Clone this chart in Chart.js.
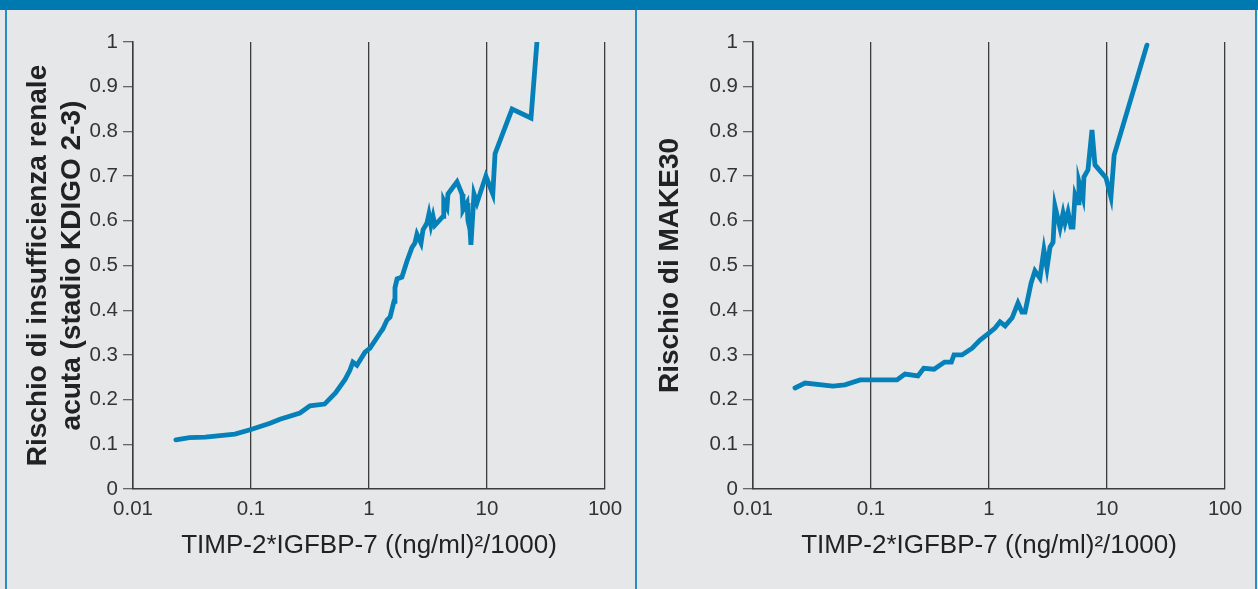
<!DOCTYPE html>
<html>
<head>
<meta charset="utf-8">
<script src="https://cdn.jsdelivr.net/npm/chart.js@4"></script>
<style>
  body { margin: 0; background: #e6e7e9; width: 1258px; height: 589px; overflow: hidden; position: relative; }
  .bar { position: absolute; left: 0; top: 0; width: 1258px; height: 10px; background: #0079b1; }
  .vline { position: absolute; top: 10px; width: 2px; height: 579px; background: #2a8cc3; }
  .box { position: absolute; top: 0; width: 636px; height: 589px; }
</style>
</head>
<body>
<div class="bar"></div>
<div class="vline" style="left:5px"></div>
<div class="vline" style="left:635px"></div>
<div class="vline" style="left:1255px"></div>
<div class="box" style="left:0px"><canvas id="chartAki"></canvas></div>
<div class="box" style="left:620px"><canvas id="chartMake"></canvas></div>
<script>
const xTicks = [0.01, 0.1, 1, 10, 100];
const xTitle = 'TIMP-2*IGFBP-7 ((ng/ml)²/1000)';

// rischio AKI (KDIGO 2-3)
const akiX = [0.0231, 0.030, 0.041, 0.073, 0.100, 0.145, 0.176, 0.26, 0.316, 0.42, 0.52, 0.627, 0.69, 0.73, 0.79,
  0.925, 1.02, 1.24, 1.31, 1.42, 1.51, 1.63, 1.66, 1.73, 1.9, 2.1, 2.31, 2.45, 2.55, 2.76, 2.87, 3.1, 3.22, 3.35,
  3.49, 3.62, 4.24, 4.3, 4.58, 4.67, 5.57, 6.14, 6.26, 6.77, 6.9, 7.18, 7.31, 7.76, 8.22, 9.78, 11.2, 11.7, 16.3,
  23.6, 26.5];
const akiY = [0.110, 0.115, 0.116, 0.123, 0.133, 0.147, 0.156, 0.170, 0.186, 0.190, 0.215, 0.245, 0.266, 0.284, 0.277,
  0.306, 0.315, 0.349, 0.358, 0.378, 0.385, 0.42, 0.45, 0.47, 0.474, 0.51, 0.54, 0.55, 0.57, 0.55, 0.58, 0.595, 0.615, 0.59,
  0.61, 0.59, 0.61, 0.645, 0.63, 0.66, 0.687, 0.66, 0.624, 0.64, 0.60, 0.58, 0.546, 0.66, 0.64, 0.70, 0.66, 0.75, 0.85,
  0.83, 1.0];

// rischio MAKE30
const makeX = [0.0227, 0.0276, 0.0476, 0.060, 0.081, 0.166, 0.194, 0.25, 0.28, 0.342, 0.42, 0.48, 0.505, 0.59, 0.72,
  0.84, 0.98, 1.125, 1.24, 1.37, 1.57, 1.76, 1.9, 2.02, 2.27, 2.45, 2.7, 2.92, 3.1, 3.29, 3.49, 3.62, 4.0, 4.24, 4.41,
  4.67, 4.95, 5.15, 5.36, 5.68, 5.79, 6.26, 6.38, 6.9, 7.46, 7.91, 9.81, 10.8, 11.5, 21.8];
const makeY = [0.226, 0.237, 0.230, 0.233, 0.244, 0.244, 0.257, 0.253, 0.270, 0.268, 0.284, 0.284, 0.300, 0.300, 0.315,
  0.333, 0.347, 0.360, 0.374, 0.365, 0.383, 0.416, 0.396, 0.396, 0.46, 0.488, 0.472, 0.535, 0.494, 0.541, 0.552, 0.633,
  0.584, 0.617, 0.595, 0.62, 0.586, 0.586, 0.658, 0.64, 0.687, 0.653, 0.698, 0.714, 0.803, 0.725, 0.696, 0.653, 0.747,
  0.993];

const lineColor = '#0580b8';
const axisColor = '#3c3c3c';
const textColor = '#333333';

function makeChart(el, xs, ys, yTitle, titlePad) {
  let points = xs.map((x, i) => ({ x: x, y: ys[i] }));

  let myOptions = {
    responsive: false,
    animation: false,
    layout: { padding: { top: 42, right: 31, left: 0, bottom: 20 } },
    plugins: { legend: { display: false }, tooltip: { enabled: false } },
    scales: {
      x: {
        type: 'logarithmic',
        min: 0.01,
        max: 100,
        afterBuildTicks: (axis) => { axis.ticks = xTicks.map(v => ({ value: v })); },
        afterFit: (scale) => { scale.height = 80; },
        grid: { color: axisColor, lineWidth: 1.3, drawTicks: false },
        border: { color: axisColor, width: 1.5 },
        ticks: {
          color: textColor,
          padding: 8,
          maxRotation: 0,
          autoSkip: false,
          font: { family: 'Liberation Sans', size: 20.5 },
          callback: (v) => String(v)
        },
        title: {
          display: true,
          text: xTitle,
          color: '#222',
          font: { family: 'Liberation Sans', size: 26, lineHeight: 1.1 },
          padding: { top: 0, bottom: 9 }
        }
      },
      y: {
        min: 0,
        max: 1,
        afterFit: (scale) => { scale.width = 133; },
        grid: { drawOnChartArea: false, drawTicks: true, tickLength: 10, color: '#666', lineWidth: 1.3 },
        border: { color: axisColor, width: 1.5 },
        ticks: {
          stepSize: 0.1,
          color: textColor,
          padding: 5,
          font: { family: 'Liberation Sans', size: 20.5 },
          callback: (v) => String(Number(v.toFixed(1)))
        },
        title: {
          display: true,
          text: yTitle,
          color: '#222',
          font: { family: 'Liberation Sans', size: 28, weight: 'bold', lineHeight: 1.22 },
          padding: { top: titlePad, bottom: 0 }
        }
      }
    }
  };

  return new Chart(el, {
    type: 'line',
    data: {
      datasets: [{
        data: points,
        borderColor: lineColor,
        borderWidth: 4.8,
        borderCapStyle: 'round',
        pointRadius: 0,
        tension: 0,
        fill: false
      }]
    },
    options: myOptions
  });
}

for (const id of ['chartAki', 'chartMake']) {
  const c = document.getElementById(id);
  c.width = 636;
  c.height = 589;
  c.style.width = '636px';
  c.style.height = '589px';
}

makeChart(document.getElementById('chartAki'), akiX, akiY,
  ['Rischio di insufficienza renale', 'acuta (stadio KDIGO 2-3)'], 21);
makeChart(document.getElementById('chartMake'), makeX, makeY, 'Rischio di MAKE30', 33);
</script>
</body>
</html>
